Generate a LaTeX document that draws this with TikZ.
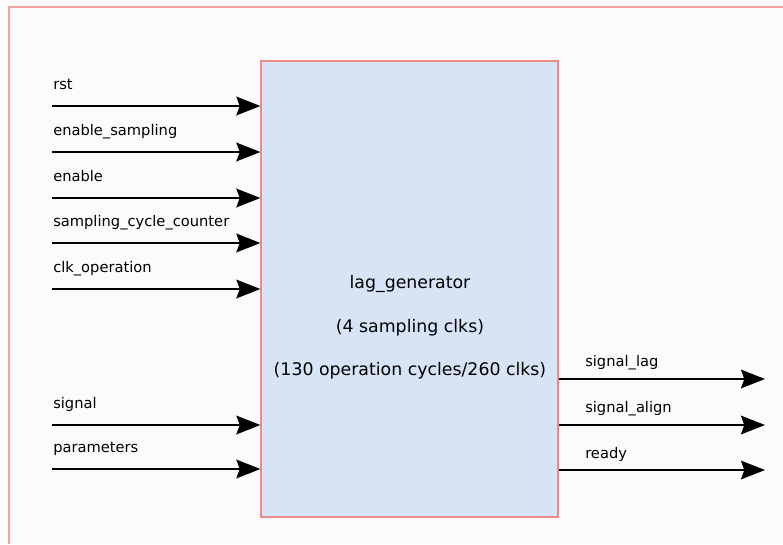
\documentclass[tikz,border=0pt]{standalone}
\usepackage{fontspec}
\setmainfont{DejaVu Sans}
\usepackage{xcolor}
\usepackage{tikz}
\usetikzlibrary{positioning,arrows.meta}

\definecolor{pagebg}{HTML}{FBFBFB}
\definecolor{framered}{HTML}{F2A2A2}
\definecolor{blkfill}{HTML}{D6E4F5}
\definecolor{blkdraw}{HTML}{EE8A8A}

\begin{document}
\begin{tikzpicture}[x=0.75pt, y=-0.75pt,
    >={Stealth[length=18pt, width=14pt, inset=2.5pt]},
    blk/.style={
      draw=blkdraw, fill=blkfill, line width=0.9pt,
      minimum width=222.75pt, minimum height=342pt, inner sep=0pt
    },
    sig/.style={->, line width=1.5pt, black},
    lbl/.style={font=\fontsize{11}{13}\selectfont, inner sep=0pt},
    title/.style={font=\fontsize{13}{16}\selectfont, align=center}
  ]

  % ===== Canvas and outer frame =====
  \fill[pagebg] (0,0) rectangle (783,544);
  \useasboundingbox (0,0) rectangle (783,544);
  \draw[framered, line width=0.9pt] (9,544) -- (9,7) -- (783,7);

  % ===== Module block =====
  \node[blk] (gen) at (409.5,289) {};
  \node[title, anchor=base] (genName) at (410,288) {lag\_generator};
  \node[title, anchor=base] (genSmp) at (410,332.5) {(4 sampling clks)};
  \node[title, anchor=base] (genOps) at (410,375) {(130 operation cycles/260 clks)};

  % ===== Inputs =====
  \coordinate (rstIn) at (52,106);
  \draw[sig] (rstIn) -- (rstIn -| gen.west);
  \node[lbl, anchor=base west] (rstLbl) at ([shift={(1,-17)}]rstIn) {rst};

  \coordinate (enSmpIn) at (52,152);
  \draw[sig] (enSmpIn) -- (enSmpIn -| gen.west);
  \node[lbl, anchor=base west] (enSmpLbl) at ([shift={(1,-17)}]enSmpIn) {enable\_sampling};

  \coordinate (enIn) at (52,198);
  \draw[sig] (enIn) -- (enIn -| gen.west);
  \node[lbl, anchor=base west] (enLbl) at ([shift={(1,-17)}]enIn) {enable};

  \coordinate (cntIn) at (52,243);
  \draw[sig] (cntIn) -- (cntIn -| gen.west);
  \node[lbl, anchor=base west] (cntLbl) at ([shift={(1,-17)}]cntIn) {sampling\_cycle\_counter};

  \coordinate (clkIn) at (52,289);
  \draw[sig] (clkIn) -- (clkIn -| gen.west);
  \node[lbl, anchor=base west] (clkLbl) at ([shift={(1,-17)}]clkIn) {clk\_operation};

  \coordinate (sigIn) at (52,425);
  \draw[sig] (sigIn) -- (sigIn -| gen.west);
  \node[lbl, anchor=base west] (sigLbl) at ([shift={(1,-17)}]sigIn) {signal};

  \coordinate (parIn) at (52,469);
  \draw[sig] (parIn) -- (parIn -| gen.west);
  \node[lbl, anchor=base west] (parLbl) at ([shift={(1,-17)}]parIn) {parameters};

  % ===== Outputs =====
  \coordinate (lagOut) at (765,379);
  \draw[sig] (lagOut -| gen.east) -- (lagOut);
  \node[lbl, anchor=base west] (lagLbl) at (585,366.5) {signal\_lag};

  \coordinate (alignOut) at (765,425);
  \draw[sig] (alignOut -| gen.east) -- (alignOut);
  \node[lbl, anchor=base west] (alignLbl) at (585,412.5) {signal\_align};

  \coordinate (readyOut) at (765,470);
  \draw[sig] (readyOut -| gen.east) -- (readyOut);
  \node[lbl, anchor=base west] (readyLbl) at (585,458) {ready};

\end{tikzpicture}
\end{document}
